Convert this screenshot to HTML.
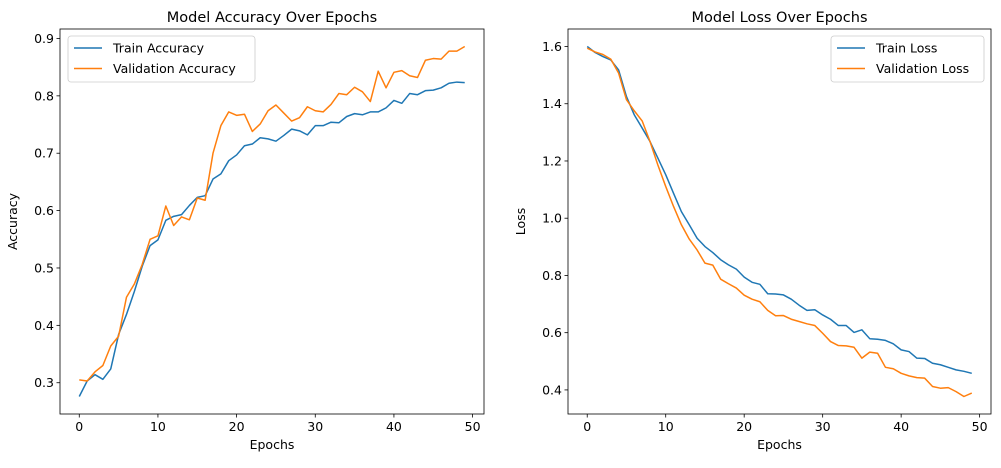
<!DOCTYPE html>
<html><head><meta charset="utf-8"><style>
body{margin:0;background:#fff;}
svg{display:block;font-family:"DejaVu Sans","Liberation Sans",sans-serif;}
</style></head><body>
<svg id="c" width="1001" height="468" viewBox="0 0 1001 468"></svg>
<script>
const epochs = Array.from({length:50},(_,i)=>i);
const trainAcc = [0.276,0.303,0.314,0.306,0.324,0.384,0.419,0.459,0.503,0.539,0.549,0.583,0.590,0.593,0.609,0.623,0.626,0.655,0.664,0.687,0.697,0.713,0.716,0.727,0.725,0.721,0.731,0.742,0.739,0.732,0.748,0.748,0.754,0.753,0.764,0.769,0.767,0.772,0.772,0.779,0.792,0.787,0.804,0.802,0.809,0.810,0.814,0.822,0.824,0.823];
const valAcc = [0.305,0.303,0.319,0.330,0.364,0.381,0.449,0.472,0.506,0.550,0.556,0.608,0.574,0.589,0.584,0.622,0.618,0.700,0.748,0.772,0.766,0.768,0.738,0.751,0.774,0.784,0.770,0.756,0.762,0.781,0.774,0.772,0.785,0.804,0.802,0.815,0.807,0.790,0.843,0.814,0.841,0.844,0.835,0.832,0.862,0.865,0.864,0.878,0.878,0.886];
const trainLoss = [1.600,1.579,1.565,1.553,1.518,1.425,1.361,1.315,1.268,1.210,1.152,1.087,1.023,0.977,0.930,0.901,0.880,0.855,0.837,0.822,0.794,0.776,0.769,0.736,0.735,0.732,0.717,0.696,0.678,0.680,0.662,0.647,0.625,0.625,0.601,0.610,0.579,0.577,0.573,0.561,0.540,0.534,0.511,0.510,0.493,0.488,0.479,0.470,0.465,0.458];
const valLoss = [1.594,1.581,1.572,1.556,1.507,1.414,1.375,1.340,1.268,1.186,1.111,1.041,0.977,0.927,0.889,0.843,0.836,0.787,0.771,0.756,0.731,0.717,0.708,0.678,0.659,0.660,0.647,0.639,0.631,0.625,0.598,0.569,0.555,0.554,0.549,0.511,0.532,0.528,0.479,0.474,0.458,0.449,0.443,0.441,0.412,0.406,0.408,0.394,0.377,0.389];
const xTicks = [0,10,20,30,40,50];
const accTicks = [0.3,0.4,0.5,0.6,0.7,0.8,0.9];
const lossTicks = [0.4,0.6,0.8,1.0,1.2,1.4,1.6];

const svg=document.getElementById('c');
const NS='http://www.w3.org/2000/svg';
function mk(tag,attrs,parent){const e=document.createElementNS(NS,tag);for(const k in attrs)e.setAttribute(k,attrs[k]);(parent||svg).appendChild(e);return e;}

function panel(o){
  const g=mk('g',{});
  
  
  const all=o.series.flatMap(s=>s.data);
  let mn=Math.min(...all),mx=Math.max(...all),pad=(mx-mn)*0.05;mn-=pad;mx+=pad;
  const X=v=>o.L+(v+2.45)/53.9*(o.R-o.L);
  const Y=v=>o.B-(v-mn)/(mx-mn)*(o.B-o.T);
  // ticks
  xTicks.forEach(t=>{
    mk('line',{x1:X(t),x2:X(t),y1:o.B,y2:o.B+3.5,stroke:'#000','stroke-width':0.8},g);
    const tx=mk('text',{x:X(t),y:o.B+17,'text-anchor':'middle','font-size':12.5,fill:'#000'},g);tx.textContent=t;
    
    
  });
  o.yTicks.forEach(t=>{
    mk('line',{x1:o.L-3.5,x2:o.L,y1:Y(t),y2:Y(t),stroke:'#000','stroke-width':0.8},g);
    const tx=mk('text',{x:o.L-6,y:Y(t)+4.5,'text-anchor':'end','font-size':12.5,fill:'#000'},g);tx.textContent=t.toFixed(1);
    
    
  });
  o.series.forEach(s=>{
    const p=mk('polyline',{points:s.data.map((v,i)=>X(epochs[i]).toFixed(2)+','+Y(v).toFixed(2)).join(' '),fill:'none',stroke:s.color,'stroke-width':1.5,'stroke-linejoin':'round'},g);
    
    
  });
  mk('rect',{x:o.L,y:o.T,width:o.R-o.L,height:o.B-o.T,fill:'none',stroke:'#000','stroke-width':0.8},g);
  const ti=mk('text',{x:(o.L+o.R)/2,y:o.T-7,'text-anchor':'middle','font-size':14.5},g);ti.textContent=o.title;
  
  
  const xl=mk('text',{x:(o.L+o.R)/2,y:o.B+35,'text-anchor':'middle','font-size':12.5},g);xl.textContent='Epochs';
  
  
  const yl=mk('text',{x:0,y:0,'text-anchor':'middle','font-size':12.5,transform:`translate(${o.L-43},${(o.T+o.B)/2}) rotate(-90)`},g);yl.textContent=o.ylabel;
  
  
  // legend
  const lg=mk('g',{},g);
  
  
  mk('rect',{x:o.lx,y:o.T+7,width:o.lw,height:46,rx:3,fill:'#fff','fill-opacity':0.8,stroke:'#ccc','stroke-width':0.8},lg);
  o.series.forEach((s,i)=>{
    const yy=o.T+19+i*20.5;
    mk('line',{x1:o.lx+6,x2:o.lx+34,y1:yy,y2:yy,stroke:s.color,'stroke-width':1.5},lg);
    const t=mk('text',{x:o.lx+45,y:yy+4.5,'font-size':12.5},lg);t.textContent=s.label;
    
    
  });
}
panel({name:'accuracy-chart',L:60,R:484,T:29,B:414,title:'Model Accuracy Over Epochs',ylabel:'Accuracy',yTicks:accTicks,lx:68,lw:187,
  series:[{id:'train-accuracy-line',label:'Train Accuracy',data:trainAcc,color:'#1f77b4'},{id:'validation-accuracy-line',label:'Validation Accuracy',data:valAcc,color:'#ff7f0e'}]});
panel({name:'loss-chart',L:568,R:991,T:29,B:414,title:'Model Loss Over Epochs',ylabel:'Loss',yTicks:lossTicks,lx:831,lw:153,
  series:[{id:'train-loss-line',label:'Train Loss',data:trainLoss,color:'#1f77b4'},{id:'validation-loss-line',label:'Validation Loss',data:valLoss,color:'#ff7f0e'}]});
</script>
</body></html>
